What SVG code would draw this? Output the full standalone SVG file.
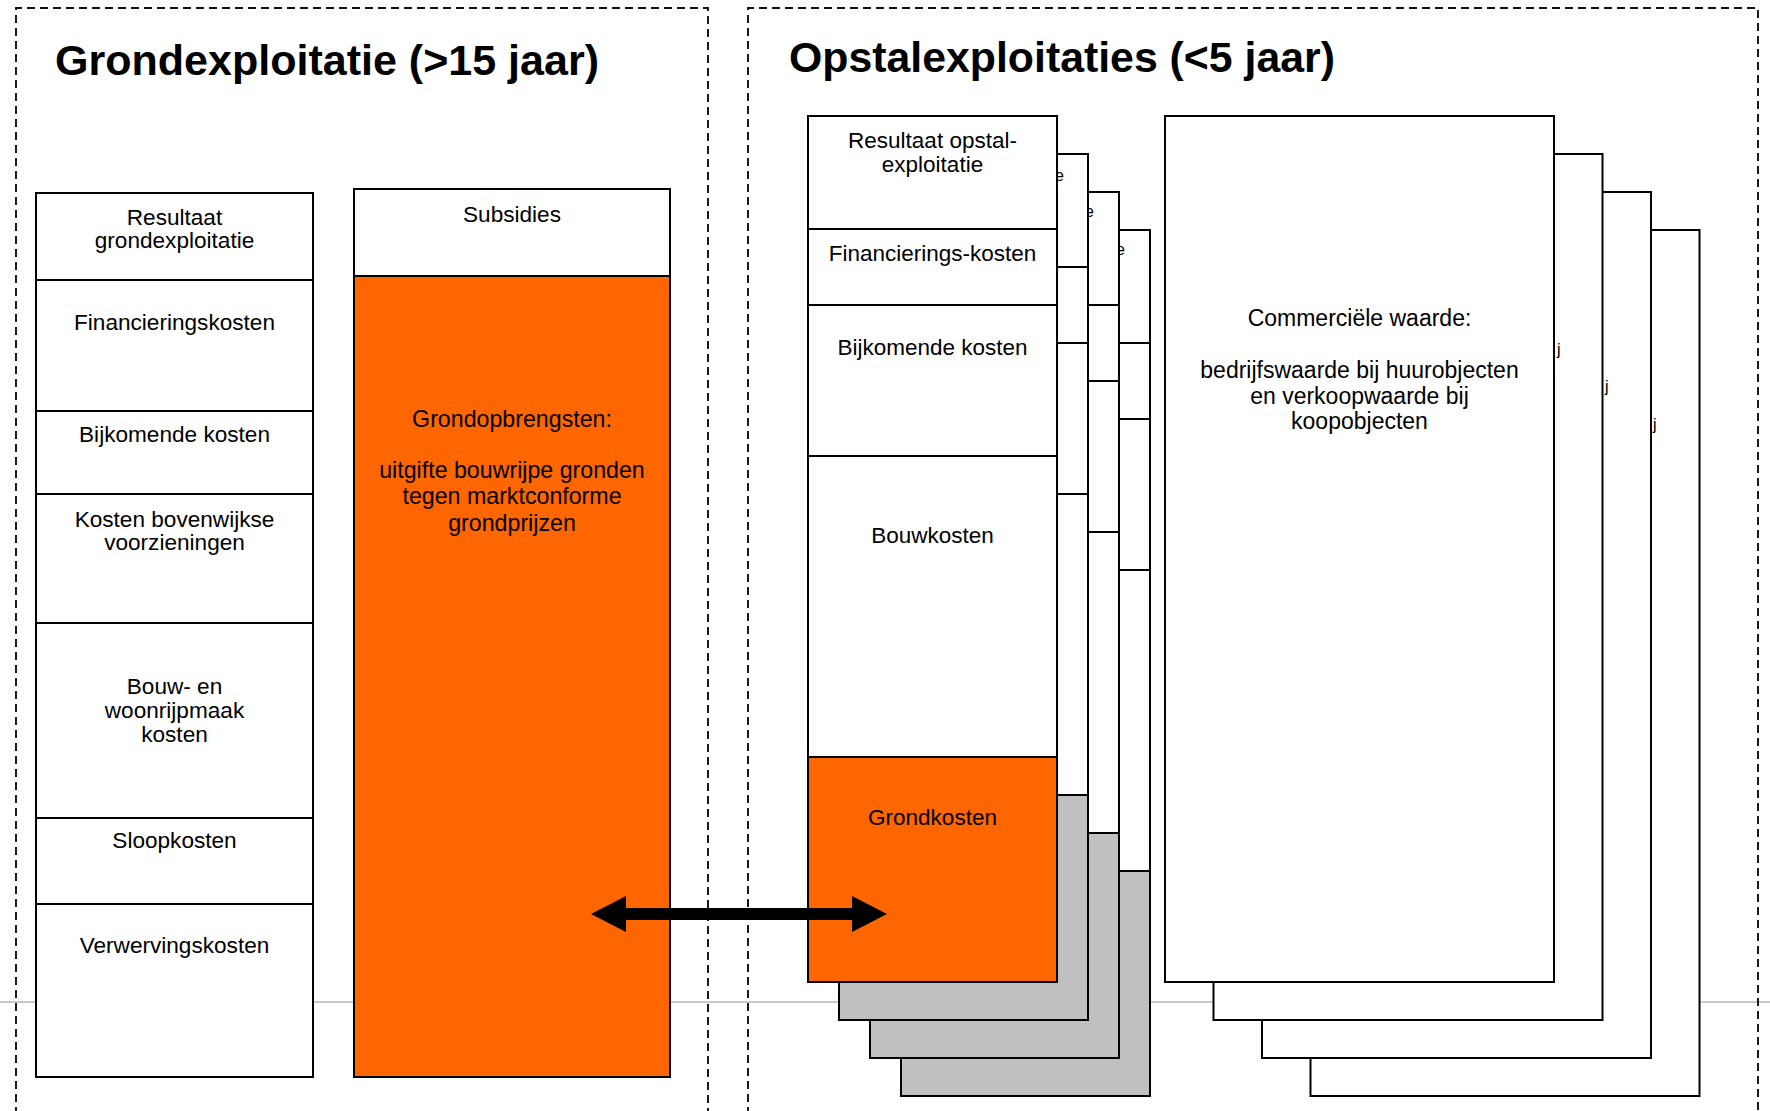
<svg xmlns="http://www.w3.org/2000/svg" width="1770" height="1111" viewBox="0 0 1770 1111">
<style>
.cell{fill:#fff;stroke:#000;stroke-width:2}
.org{fill:#ff6600;stroke:#000;stroke-width:2}
.gry{fill:#c0c0c0;stroke:#000;stroke-width:2}
.lbl{font-family:"Liberation Sans",Arial,sans-serif;font-size:22.6px;fill:#000;text-anchor:middle}
.lbo{font-family:"Liberation Sans",Arial,sans-serif;font-size:23.2px;fill:#000;text-anchor:middle}
.lbr{font-family:"Liberation Sans",Arial,sans-serif;font-size:22.5px;fill:#000;text-anchor:middle}
.lbc{font-family:"Liberation Sans",Arial,sans-serif;font-size:23px;fill:#000;text-anchor:middle}
.frag{font-family:"Liberation Sans",Arial,sans-serif;font-size:16px;fill:#000}
.title{font-family:"Liberation Sans",Arial,sans-serif;font-weight:bold;font-size:43px;fill:#000}
.frame{fill:none;stroke:#111;stroke-width:1.9;stroke-dasharray:8 5}
</style>
<defs>
<marker id="head" viewBox="0 0 36 36" markerWidth="36" markerHeight="36" markerUnits="userSpaceOnUse" refX="0" refY="18" orient="auto-start-reverse">
<path d="M0,0 L35,18 L0,36 Z" fill="#000"/>
</marker>
</defs>
<rect width="1770" height="1111" fill="#fff"/>
<line x1="0" y1="1002" x2="1770" y2="1002" stroke="#c8c8c8" stroke-width="2"/>
<g id="frames">
<path class="frame" d="M16,1115 V8 H708 V1115"/>
<path class="frame" d="M748,1115 V8 H1758 V1115"/>
</g>
<g id="titles">
<text class="title" x="55" y="75" textLength="544" lengthAdjust="spacingAndGlyphs">Grondexploitatie (&gt;15 jaar)</text>
<text class="title" x="789" y="72" textLength="546" lengthAdjust="spacingAndGlyphs">Opstalexploitaties (&lt;5 jaar)</text>
</g>
<g id="grondexploitatie-kosten">
<g id="resultaat-grondexploitatie"><rect class="cell" x="36" y="193" width="277" height="87"/><text class="lbl" x="174.5" y="225">Resultaat</text><text class="lbl" x="174.5" y="248">grondexploitatie</text></g>
<g id="financieringskosten"><rect class="cell" x="36" y="280" width="277" height="131"/><text class="lbl" x="174.5" y="330">Financieringskosten</text></g>
<g id="bijkomende-kosten"><rect class="cell" x="36" y="411" width="277" height="83"/><text class="lbl" x="174.5" y="442">Bijkomende kosten</text></g>
<g id="bovenwijkse"><rect class="cell" x="36" y="494" width="277" height="129"/><text class="lbl" x="174.5" y="527">Kosten bovenwijkse</text><text class="lbl" x="174.5" y="550">voorzieningen</text></g>
<g id="bouw-woonrijpmaak"><rect class="cell" x="36" y="623" width="277" height="195"/><text class="lbl" x="174.5" y="694">Bouw- en</text><text class="lbl" x="174.5" y="718">woonrijpmaak</text><text class="lbl" x="174.5" y="742">kosten</text></g>
<g id="sloopkosten"><rect class="cell" x="36" y="818" width="277" height="86"/><text class="lbl" x="174.5" y="848">Sloopkosten</text></g>
<g id="verwervingskosten"><rect class="cell" x="36" y="904" width="277" height="173"/><text class="lbl" x="174.5" y="953">Verwervingskosten</text></g>
</g>
<g id="grondexploitatie-opbrengsten">
<g id="subsidies"><rect class="cell" x="354" y="189" width="316" height="87"/><text class="lbl" x="512" y="222">Subsidies</text></g>
<g id="grondopbrengsten"><rect class="org" x="354" y="276" width="316" height="801"/><text class="lbo" x="512" y="427">Grondopbrengsten:</text><text class="lbo" x="512" y="478">uitgifte bouwrijpe gronden</text><text class="lbo" x="512" y="504">tegen marktconforme</text><text class="lbo" x="512" y="531">grondprijzen</text></g>
</g>
<g id="opstal-stack">
<g id="opstal-4"><rect class="cell" x="901" y="230" width="249" height="113"/><rect class="cell" x="901" y="343" width="249" height="76"/><rect class="cell" x="901" y="419" width="249" height="151"/><rect class="cell" x="901" y="570" width="249" height="301"/><rect class="gry" x="901" y="871" width="249" height="225"/><text class="frag" x="1116" y="255">e</text></g>
<g id="opstal-3"><rect class="cell" x="870" y="192" width="249" height="113"/><rect class="cell" x="870" y="305" width="249" height="76"/><rect class="cell" x="870" y="381" width="249" height="151"/><rect class="cell" x="870" y="532" width="249" height="301"/><rect class="gry" x="870" y="833" width="249" height="225"/><text class="frag" x="1085" y="217">e</text></g>
<g id="opstal-2"><rect class="cell" x="839" y="154" width="249" height="113"/><rect class="cell" x="839" y="267" width="249" height="76"/><rect class="cell" x="839" y="343" width="249" height="151"/><rect class="cell" x="839" y="494" width="249" height="301"/><rect class="gry" x="839" y="795" width="249" height="225"/><text class="frag" x="1055" y="181">e</text></g>
<g id="opstal-1">
<g id="resultaat-opstal"><rect class="cell" x="808" y="116" width="249" height="113"/><text class="lbr" x="932.5" y="148">Resultaat opstal-</text><text class="lbr" x="932.5" y="172">exploitatie</text></g>
<g id="financierings-kosten"><rect class="cell" x="808" y="229" width="249" height="76"/><text class="lbr" x="932.5" y="261">Financierings-kosten</text></g>
<g id="bijkomende-kosten-opstal"><rect class="cell" x="808" y="305" width="249" height="151"/><text class="lbr" x="932.5" y="355">Bijkomende kosten</text></g>
<g id="bouwkosten"><rect class="cell" x="808" y="456" width="249" height="301"/><text class="lbr" x="932.5" y="543">Bouwkosten</text></g>
<g id="grondkosten"><rect class="org" x="808" y="757" width="249" height="225"/><text class="lbr" x="932.5" y="825">Grondkosten</text></g>
</g>
</g>
<g id="commercieel-stack">
<g id="commercieel-4"><rect class="cell" x="1310.5" y="230" width="389" height="866"/><text class="frag" x="1653" y="430">j</text></g>
<g id="commercieel-3"><rect class="cell" x="1262" y="192" width="389" height="866"/><text class="frag" x="1605" y="392">j</text></g>
<g id="commercieel-2"><rect class="cell" x="1213.5" y="154" width="389" height="866"/><text class="frag" x="1557" y="355">j</text></g>
<g id="commerciele-waarde"><rect class="cell" x="1165" y="116" width="389" height="866"/><text class="lbc" x="1359.5" y="326">Commerciële waarde:</text><text class="lbc" x="1359.5" y="378">bedrijfswaarde bij huurobjecten</text><text class="lbc" x="1359.5" y="404">en verkoopwaarde bij</text><text class="lbc" x="1359.5" y="429">koopobjecten</text></g>
</g>
<g id="connectors">
<path d="M626,914 H852" stroke="#000" stroke-width="12" fill="none" marker-start="url(#head)" marker-end="url(#head)"/>
</g>
</svg>
